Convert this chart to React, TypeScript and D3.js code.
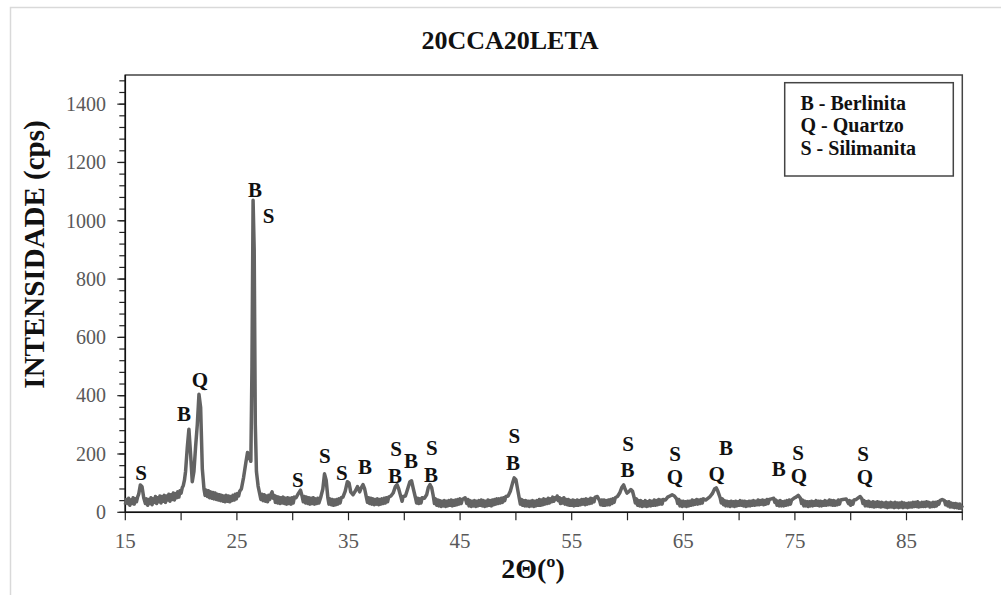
import React from 'react';
import { scaleLinear, line, range, curveLinear } from 'd3';

// XRD pattern: [2theta (deg), intensity (cps)]
const pattern: [number, number][] = [
  [15.0, 26], [15.1, 44], [15.2, 30], [15.3, 48], [15.4, 24], [15.5, 42], [15.6, 30], [15.7, 50], [15.8, 28], [15.9, 46],
  [16.0, 36], [16.1, 52], [16.2, 62], [16.35, 94], [16.5, 88], [16.65, 50], [16.8, 30], [16.9, 46], [17.0, 24], [17.1, 44],
  [17.2, 30], [17.3, 50], [17.4, 26], [17.5, 46], [17.6, 34], [17.7, 54], [17.8, 30], [17.9, 50], [18.0, 36], [18.1, 56],
  [18.2, 32], [18.3, 54], [18.4, 38], [18.5, 58], [18.6, 34], [18.7, 56], [18.8, 42], [18.9, 62], [19.0, 38], [19.1, 60],
  [19.2, 44], [19.3, 66], [19.4, 42], [19.5, 64], [19.6, 50], [19.7, 70], [19.8, 52], [19.9, 74], [20.0, 66], [20.1, 84],
  [20.2, 92], [20.3, 110], [20.4, 140], [20.55, 220], [20.7, 285], [20.85, 200], [21.0, 105], [21.15, 140], [21.3, 225], [21.45, 300],
  [21.6, 405], [21.75, 360], [21.9, 150], [22.05, 80], [22.15, 58], [22.25, 76], [22.35, 54], [22.45, 74], [22.55, 50], [22.65, 70],
  [22.75, 48], [22.85, 68], [22.95, 46], [23.05, 66], [23.15, 44], [23.25, 62], [23.35, 42], [23.45, 60], [23.55, 40], [23.65, 58],
  [23.75, 38], [23.85, 56], [23.95, 36], [24.05, 58], [24.15, 38], [24.25, 56], [24.35, 36], [24.45, 54], [24.55, 40], [24.65, 58],
  [24.75, 42], [24.85, 62], [24.95, 46], [25.05, 64], [25.15, 56], [25.25, 72], [25.4, 80], [25.6, 120], [25.8, 170], [25.95, 205],
  [26.1, 190], [26.25, 175], [26.35, 500], [26.45, 1070], [26.55, 900], [26.65, 300], [26.75, 140], [26.9, 90], [27.05, 62], [27.15, 44],
  [27.25, 62], [27.35, 40], [27.45, 60], [27.55, 38], [27.65, 56], [27.75, 36], [27.85, 58], [27.95, 44], [28.05, 62], [28.15, 70],
  [28.25, 48], [28.35, 58], [28.45, 34], [28.55, 54], [28.65, 32], [28.75, 52], [28.85, 30], [28.95, 50], [29.05, 32], [29.15, 52],
  [29.25, 30], [29.35, 48], [29.45, 28], [29.55, 50], [29.65, 30], [29.75, 48], [29.85, 28], [29.95, 50], [30.05, 32], [30.15, 52],
  [30.3, 50], [30.5, 64], [30.7, 76], [30.85, 54], [30.95, 36], [31.05, 54], [31.15, 32], [31.25, 52], [31.35, 30], [31.45, 50],
  [31.55, 28], [31.65, 48], [31.75, 30], [31.85, 50], [31.95, 28], [32.05, 46], [32.15, 30], [32.25, 48], [32.35, 32], [32.5, 50],
  [32.7, 80], [32.85, 132], [33.0, 110], [33.15, 50], [33.25, 28], [33.35, 46], [33.45, 26], [33.55, 44], [33.65, 24], [33.75, 42],
  [33.85, 26], [33.95, 44], [34.05, 28], [34.15, 46], [34.25, 32], [34.35, 50], [34.5, 52], [34.7, 72], [34.9, 105], [35.05, 100],
  [35.2, 70], [35.4, 60], [35.6, 72], [35.8, 88], [36.0, 70], [36.15, 85], [36.3, 95], [36.45, 80], [36.6, 52], [36.7, 34],
  [36.8, 50], [36.9, 30], [37.0, 48], [37.1, 28], [37.2, 46], [37.3, 26], [37.4, 44], [37.5, 28], [37.6, 46], [37.7, 26],
  [37.8, 44], [37.9, 28], [38.0, 46], [38.1, 30], [38.2, 48], [38.3, 32], [38.4, 50], [38.5, 36], [38.6, 52], [38.8, 56],
  [39.0, 66], [39.2, 88], [39.35, 95], [39.5, 80], [39.7, 52], [39.8, 38], [39.9, 54], [40.1, 56], [40.3, 80], [40.5, 105],
  [40.65, 108], [40.8, 82], [41.0, 50], [41.1, 32], [41.2, 48], [41.3, 30], [41.4, 46], [41.5, 32], [41.6, 50], [41.8, 48],
  [42.0, 60], [42.15, 85], [42.3, 95], [42.45, 85], [42.6, 55], [42.7, 30], [42.8, 46], [42.9, 24], [43.0, 42], [43.1, 22],
  [43.2, 40], [43.3, 20], [43.4, 38], [43.5, 22], [43.6, 40], [43.7, 20], [43.8, 38], [43.9, 22], [44.0, 40], [44.1, 24],
  [44.2, 42], [44.3, 22], [44.4, 40], [44.5, 24], [44.6, 42], [44.7, 26], [44.8, 44], [44.9, 28], [45.0, 46], [45.1, 30],
  [45.2, 44], [45.45, 50], [45.6, 30], [45.7, 44], [45.8, 22], [45.9, 40], [46.0, 20], [46.1, 38], [46.2, 22], [46.3, 40],
  [46.4, 20], [46.5, 38], [46.6, 22], [46.7, 40], [46.8, 24], [46.9, 42], [47.0, 22], [47.1, 40], [47.2, 20], [47.3, 38],
  [47.4, 22], [47.5, 42], [47.6, 24], [47.7, 40], [47.8, 22], [47.9, 42], [48.0, 26], [48.1, 44], [48.2, 28], [48.3, 46],
  [48.4, 30], [48.5, 46], [48.6, 32], [48.7, 48], [48.8, 34], [48.9, 50], [49.0, 40], [49.1, 54], [49.3, 56], [49.5, 72],
  [49.7, 100], [49.85, 118], [50.0, 112], [50.15, 80], [50.3, 48], [50.4, 28], [50.5, 44], [50.6, 24], [50.7, 40], [50.8, 22],
  [50.9, 40], [51.0, 22], [51.1, 38], [51.2, 20], [51.3, 38], [51.4, 22], [51.5, 40], [51.6, 20], [51.7, 38], [51.8, 22],
  [51.9, 40], [52.0, 24], [52.1, 44], [52.2, 24], [52.3, 42], [52.4, 26], [52.5, 46], [52.6, 28], [52.7, 44], [52.8, 30],
  [52.9, 48], [53.0, 32], [53.1, 46], [53.2, 36], [53.3, 52], [53.4, 38], [53.5, 50], [53.6, 44], [53.7, 56], [53.8, 40],
  [53.9, 50], [54.0, 30], [54.1, 46], [54.2, 32], [54.3, 50], [54.4, 28], [54.5, 44], [54.6, 26], [54.7, 44], [54.8, 24],
  [54.9, 40], [55.0, 24], [55.1, 42], [55.2, 22], [55.3, 40], [55.4, 24], [55.5, 42], [55.6, 24], [55.7, 40], [55.8, 26],
  [55.9, 44], [56.0, 28], [56.1, 44], [56.2, 26], [56.3, 46], [56.4, 28], [56.5, 44], [56.6, 30], [56.7, 48], [56.8, 32],
  [56.9, 46], [57.0, 36], [57.1, 52], [57.3, 54], [57.5, 40], [57.6, 26], [57.7, 42], [57.8, 24], [57.9, 42], [58.0, 24],
  [58.1, 40], [58.2, 26], [58.3, 42], [58.4, 26], [58.5, 44], [58.6, 30], [58.7, 46], [58.8, 34], [58.9, 50], [59.1, 54],
  [59.3, 66], [59.5, 86], [59.65, 94], [59.8, 78], [59.95, 66], [60.1, 70], [60.3, 78], [60.45, 72], [60.6, 50], [60.7, 32],
  [60.8, 46], [60.9, 24], [61.0, 40], [61.1, 22], [61.2, 40], [61.3, 20], [61.4, 36], [61.5, 22], [61.6, 40], [61.7, 20],
  [61.8, 36], [61.9, 22], [62.0, 40], [62.1, 22], [62.2, 38], [62.3, 24], [62.4, 42], [62.5, 24], [62.6, 40], [62.7, 26],
  [62.8, 44], [62.9, 28], [63.0, 42], [63.1, 28], [63.2, 44], [63.4, 42], [63.6, 52], [63.8, 56], [64.0, 60], [64.2, 56],
  [64.4, 46], [64.5, 30], [64.6, 44], [64.7, 22], [64.8, 38], [64.9, 20], [65.0, 38], [65.1, 22], [65.2, 36], [65.3, 20],
  [65.4, 38], [65.5, 22], [65.6, 38], [65.7, 24], [65.8, 42], [65.9, 26], [66.0, 40], [66.1, 28], [66.2, 44], [66.3, 28],
  [66.4, 42], [66.5, 30], [66.6, 44], [66.7, 32], [66.8, 46], [67.0, 42], [67.2, 48], [67.4, 54], [67.6, 64], [67.8, 80],
  [67.95, 84], [68.1, 72], [68.3, 50], [68.4, 32], [68.5, 46], [68.6, 26], [68.7, 40], [68.8, 22], [68.9, 38], [69.0, 22],
  [69.1, 36], [69.2, 20], [69.3, 38], [69.4, 22], [69.5, 36], [69.6, 20], [69.7, 38], [69.8, 22], [69.9, 36], [70.0, 24],
  [70.1, 40], [70.2, 24], [70.3, 38], [70.4, 22], [70.5, 38], [70.6, 20], [70.7, 36], [70.8, 22], [70.9, 38], [71.0, 22],
  [71.1, 38], [71.2, 24], [71.3, 40], [71.4, 24], [71.5, 38], [71.6, 26], [71.7, 42], [71.8, 26], [71.9, 40], [72.0, 28],
  [72.1, 42], [72.2, 26], [72.3, 40], [72.4, 28], [72.5, 44], [72.6, 30], [72.7, 44], [72.9, 46], [73.1, 48], [73.2, 34],
  [73.3, 42], [73.4, 24], [73.5, 38], [73.6, 22], [73.7, 40], [73.8, 22], [73.9, 36], [74.0, 22], [74.1, 38], [74.2, 24],
  [74.3, 40], [74.4, 26], [74.5, 42], [74.6, 28], [74.7, 42], [74.9, 48], [75.1, 52], [75.3, 58], [75.5, 48], [75.6, 30],
  [75.7, 42], [75.8, 22], [75.9, 38], [76.0, 22], [76.1, 36], [76.2, 20], [76.3, 36], [76.4, 22], [76.5, 38], [76.6, 22],
  [76.7, 36], [76.8, 24], [76.9, 40], [77.0, 24], [77.1, 38], [77.2, 22], [77.3, 38], [77.4, 22], [77.5, 36], [77.6, 24],
  [77.7, 40], [77.8, 24], [77.9, 38], [78.0, 26], [78.1, 42], [78.2, 26], [78.3, 40], [78.4, 24], [78.5, 40], [78.6, 24],
  [78.7, 38], [78.8, 26], [78.9, 42], [79.0, 28], [79.1, 42], [79.3, 44], [79.6, 46], [79.8, 30], [79.9, 40], [80.0, 24],
  [80.1, 38], [80.2, 28], [80.3, 42], [80.5, 44], [80.7, 50], [80.85, 54], [81.0, 46], [81.1, 30], [81.2, 40], [81.3, 22],
  [81.4, 36], [81.5, 22], [81.6, 38], [81.7, 20], [81.8, 34], [81.9, 20], [82.0, 36], [82.1, 18], [82.2, 34], [82.3, 20],
  [82.4, 36], [82.5, 20], [82.6, 34], [82.7, 18], [82.8, 34], [82.9, 20], [83.0, 32], [83.1, 18], [83.2, 34], [83.3, 16],
  [83.4, 32], [83.5, 18], [83.6, 34], [83.7, 18], [83.8, 32], [83.9, 16], [84.0, 34], [84.1, 18], [84.2, 32], [84.3, 16],
  [84.4, 32], [84.5, 18], [84.6, 34], [84.7, 16], [84.8, 32], [84.9, 18], [85.0, 30], [85.1, 16], [85.2, 32], [85.3, 18],
  [85.4, 32], [85.5, 18], [85.6, 34], [85.7, 20], [85.8, 34], [85.9, 20], [86.0, 36], [86.1, 18], [86.2, 32], [86.3, 20],
  [86.4, 34], [86.5, 20], [86.6, 34], [86.7, 20], [86.8, 36], [86.9, 22], [87.0, 34], [87.1, 18], [87.2, 32], [87.3, 20],
  [87.4, 34], [87.5, 20], [87.6, 34], [87.7, 22], [87.8, 36], [87.9, 28], [88.0, 40], [88.2, 44], [88.4, 40], [88.5, 26],
  [88.6, 36], [88.7, 22], [88.8, 36], [88.9, 18], [89.0, 32], [89.1, 18], [89.2, 30], [89.3, 16], [89.4, 30], [89.5, 16],
  [89.6, 28], [89.7, 14], [89.8, 28], [89.9, 14], [90.0, 24],
];

// phase letters placed over the peaks: [letter, 2theta, cps at baseline]
const peakLabels: [string, number, number][] = [
  ['S', 16.41, 111], ['B', 20.26, 314], ['Q', 21.69, 431], ['B', 26.62, 1083], ['S', 27.83, 992],
  ['S', 30.47, 87], ['S', 32.89, 170], ['S', 34.41, 111], ['B', 36.48, 131],
  ['S', 39.26, 192], ['B', 39.17, 100], ['B', 40.6, 152], ['S', 42.46, 196], ['B', 42.39, 104],
  ['S', 49.87, 237], ['B', 49.74, 146], ['S', 60.05, 209], ['B', 60.0, 120],
  ['S', 64.26, 175], ['Q', 64.26, 98], ['B', 68.83, 197], ['Q', 68.0, 109],
  ['B', 73.55, 124], ['S', 75.28, 178], ['Q', 75.37, 101], ['S', 81.1, 175], ['Q', 81.28, 98],
];

const legendItems = ['B - Berlinita', 'Q - Quartzo', 'S - Silimanita'];
const xTickLabels = [15, 25, 35, 45, 55, 65, 75, 85];
const yTickLabels = [0, 200, 400, 600, 800, 1000, 1200, 1400];

const serif = '"Times New Roman", "Liberation Serif", serif';

const App = () => {
  const margin = { top: 75, left: 125.3, right: 962.3, bottom: 512.3 };
  const xScale = scaleLinear().domain([15, 90]).range([margin.left, margin.right]);
  const yScale = scaleLinear().domain([0, 1500]).range([margin.bottom, margin.top]);
  const path = line<[number, number]>()
    .x(d => xScale(d[0]))
    .y(d => yScale(d[1]))
    .curve(curveLinear)(pattern);

  return (
    <svg width={1001} height={595} style={{ position: 'absolute', left: 0, top: 0, background: '#fff' }}>
      <rect x={10.5} y={7.5} width={1000} height={600} fill='white' stroke='#d9d9d9' strokeWidth={1.5} />
      <text x={510} y={49} textAnchor='middle' fontFamily={serif} fontWeight='bold' fontSize={26} fill='#111'>20CCA20LETA</text>

      {/* plot frame */}
      <rect x={margin.left} y={margin.top} width={margin.right - margin.left} height={margin.bottom - margin.top}
        fill='none' stroke='#444' strokeWidth={1.5} />

      {/* y ticks */}
      {range(0, 1500, 40).map(v => (
        <line key={'ym' + v} x1={margin.left - 6} x2={margin.left} y1={yScale(v)} y2={yScale(v)} stroke='#222' strokeWidth={1.2} />
      ))}
      {yTickLabels.map(v => (
        <g key={'y' + v}>
          <line x1={margin.left - 8} x2={margin.left} y1={yScale(v)} y2={yScale(v)} stroke='#222' strokeWidth={1.2} />
          <text x={106} y={yScale(v)} dy='0.34em' textAnchor='end' fontFamily={serif} fontSize={20} fill='#595959'>{v}</text>
        </g>
      ))}

      {/* x ticks */}
      {range(15, 90.01, 5).map(v => (
        <line key={'xm' + v} x1={xScale(v)} x2={xScale(v)} y1={margin.bottom} y2={margin.bottom + 8} stroke='#222' strokeWidth={1.2} />
      ))}
      {xTickLabels.map(v => (
        <text key={'x' + v} x={xScale(v)} y={548} textAnchor='middle' fontFamily={serif} fontSize={21} fill='#595959'>{v}</text>
      ))}

      <line x1={margin.left} x2={margin.left} y1={margin.top} y2={margin.bottom} stroke='#111' strokeWidth={1.5} />
      <line x1={margin.left} x2={margin.right} y1={margin.bottom} y2={margin.bottom} stroke='#111' strokeWidth={1.5} />

      <path d={path || ''} fill='none' stroke='#636363' strokeWidth={3.5} strokeLinejoin='round' />

      {peakLabels.map(([t, x, y], i) => (
        <text key={'p' + i} x={xScale(x)} y={yScale(y)} textAnchor='middle' fontFamily={serif} fontWeight='bold' fontSize={21} fill='#111'>{t}</text>
      ))}

      {/* legend */}
      <rect x={784.7} y={82.7} width={168.6} height={93.3} fill='white' stroke='#444' strokeWidth={1.5} />
      {legendItems.map((t, i) => (
        <text key={t} x={800.5} y={110 + i * 22.4} fontFamily={serif} fontWeight='bold' fontSize={20} fill='#111'>{t}</text>
      ))}

      <text transform='translate(44,254.5) rotate(-90)' textAnchor='middle' fontFamily={serif} fontWeight='bold' fontSize={29} fill='#111'>INTENSIDADE (cps)</text>
      <text x={533} y={578} textAnchor='middle' fontFamily={serif} fontWeight='bold' fontSize={28} fill='#111'>2Θ(º)</text>
    </svg>
  );
};

export default App;
